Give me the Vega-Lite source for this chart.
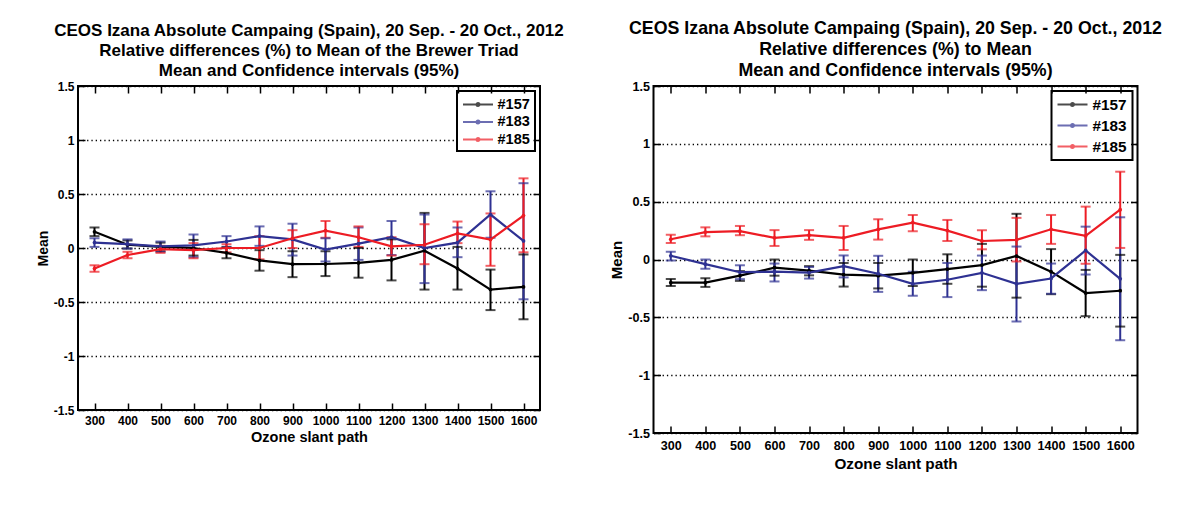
{
  "$schema": "https://vega.github.io/schema/vega-lite/v6.json",
  "background": "#ffffff",
  "padding": {"left": 35, "top": 19, "right": 0, "bottom": 0},
  "datasets": {
    "relToTriad": [
      {"path": 300, "brewer": "#157", "mean": 0.15, "lo": 0.11, "hi": 0.19},
      {"path": 400, "brewer": "#157", "mean": 0.03, "lo": -0.005, "hi": 0.07},
      {"path": 500, "brewer": "#157", "mean": 0.01, "lo": -0.03, "hi": 0.05},
      {"path": 600, "brewer": "#157", "mean": 0.0, "lo": -0.07, "hi": 0.075},
      {"path": 700, "brewer": "#157", "mean": -0.045, "lo": -0.095, "hi": 0.005},
      {"path": 800, "brewer": "#157", "mean": -0.115, "lo": -0.21, "hi": -0.02},
      {"path": 900, "brewer": "#157", "mean": -0.15, "lo": -0.27, "hi": -0.03},
      {"path": 1000, "brewer": "#157", "mean": -0.148, "lo": -0.26, "hi": -0.03},
      {"path": 1100, "brewer": "#157", "mean": -0.138, "lo": -0.275, "hi": 0.0},
      {"path": 1200, "brewer": "#157", "mean": -0.11, "lo": -0.3, "hi": 0.08},
      {"path": 1300, "brewer": "#157", "mean": -0.025, "lo": -0.385, "hi": 0.325},
      {"path": 1400, "brewer": "#157", "mean": -0.19, "lo": -0.385, "hi": 0.01},
      {"path": 1500, "brewer": "#157", "mean": -0.385, "lo": -0.575, "hi": -0.2},
      {"path": 1600, "brewer": "#157", "mean": -0.36, "lo": -0.66, "hi": -0.06},
      {"path": 300, "brewer": "#183", "mean": 0.05, "lo": 0.01, "hi": 0.09},
      {"path": 400, "brewer": "#183", "mean": 0.035, "lo": -0.005, "hi": 0.08},
      {"path": 500, "brewer": "#183", "mean": 0.015, "lo": -0.035, "hi": 0.06},
      {"path": 600, "brewer": "#183", "mean": 0.025, "lo": -0.085, "hi": 0.125},
      {"path": 700, "brewer": "#183", "mean": 0.06, "lo": 0.01, "hi": 0.11},
      {"path": 800, "brewer": "#183", "mean": 0.11, "lo": 0.02, "hi": 0.2},
      {"path": 900, "brewer": "#183", "mean": 0.08, "lo": -0.07, "hi": 0.225},
      {"path": 1000, "brewer": "#183", "mean": -0.015, "lo": -0.125, "hi": 0.09},
      {"path": 1100, "brewer": "#183", "mean": 0.04, "lo": -0.11, "hi": 0.19},
      {"path": 1200, "brewer": "#183", "mean": 0.1, "lo": -0.065, "hi": 0.25},
      {"path": 1300, "brewer": "#183", "mean": 0.0, "lo": -0.325, "hi": 0.31},
      {"path": 1400, "brewer": "#183", "mean": 0.05, "lo": -0.085, "hi": 0.19},
      {"path": 1500, "brewer": "#183", "mean": 0.31, "lo": 0.095, "hi": 0.525},
      {"path": 1600, "brewer": "#183", "mean": 0.065, "lo": -0.475, "hi": 0.6},
      {"path": 300, "brewer": "#185", "mean": -0.19, "lo": -0.22, "hi": -0.16},
      {"path": 400, "brewer": "#185", "mean": -0.065, "lo": -0.095, "hi": -0.035},
      {"path": 500, "brewer": "#185", "mean": -0.01, "lo": -0.045, "hi": 0.02},
      {"path": 600, "brewer": "#185", "mean": -0.02, "lo": -0.095, "hi": 0.045},
      {"path": 700, "brewer": "#185", "mean": 0.0, "lo": -0.04, "hi": 0.035},
      {"path": 800, "brewer": "#185", "mean": 0.0, "lo": -0.105, "hi": 0.11},
      {"path": 900, "brewer": "#185", "mean": 0.09, "lo": 0.0, "hi": 0.165},
      {"path": 1000, "brewer": "#185", "mean": 0.16, "lo": 0.095, "hi": 0.25},
      {"path": 1100, "brewer": "#185", "mean": 0.1, "lo": 0.01, "hi": 0.2},
      {"path": 1200, "brewer": "#185", "mean": 0.015, "lo": -0.07, "hi": 0.1},
      {"path": 1300, "brewer": "#185", "mean": 0.03, "lo": -0.15, "hi": 0.22},
      {"path": 1400, "brewer": "#185", "mean": 0.135, "lo": 0.045, "hi": 0.245},
      {"path": 1500, "brewer": "#185", "mean": 0.078, "lo": -0.165, "hi": 0.32},
      {"path": 1600, "brewer": "#185", "mean": 0.3, "lo": -0.04, "hi": 0.645}
    ],
    "relToMean": [
      {"path": 300, "brewer": "#157", "mean": -0.2, "lo": -0.23, "hi": -0.168},
      {"path": 400, "brewer": "#157", "mean": -0.2, "lo": -0.237, "hi": -0.162},
      {"path": 500, "brewer": "#157", "mean": -0.14, "lo": -0.185, "hi": -0.1},
      {"path": 600, "brewer": "#157", "mean": -0.07, "lo": -0.14, "hi": 0.0},
      {"path": 700, "brewer": "#157", "mean": -0.097, "lo": -0.137, "hi": -0.057},
      {"path": 800, "brewer": "#157", "mean": -0.13, "lo": -0.234, "hi": -0.03},
      {"path": 900, "brewer": "#157", "mean": -0.14, "lo": -0.25, "hi": -0.03},
      {"path": 1000, "brewer": "#157", "mean": -0.115, "lo": -0.23, "hi": 0.0},
      {"path": 1100, "brewer": "#157", "mean": -0.083, "lo": -0.21, "hi": 0.045},
      {"path": 1200, "brewer": "#157", "mean": -0.048, "lo": -0.235, "hi": 0.135},
      {"path": 1300, "brewer": "#157", "mean": 0.03, "lo": -0.33, "hi": 0.395},
      {"path": 1400, "brewer": "#157", "mean": -0.105, "lo": -0.3, "hi": 0.09},
      {"path": 1500, "brewer": "#157", "mean": -0.29, "lo": -0.49, "hi": -0.09},
      {"path": 1600, "brewer": "#157", "mean": -0.27, "lo": -0.58, "hi": 0.04},
      {"path": 300, "brewer": "#183", "mean": 0.032, "lo": -0.008, "hi": 0.068},
      {"path": 400, "brewer": "#183", "mean": -0.04, "lo": -0.08, "hi": 0.0},
      {"path": 500, "brewer": "#183", "mean": -0.11, "lo": -0.17, "hi": -0.05},
      {"path": 600, "brewer": "#183", "mean": -0.105, "lo": -0.19, "hi": -0.035},
      {"path": 700, "brewer": "#183", "mean": -0.113, "lo": -0.165, "hi": -0.065},
      {"path": 800, "brewer": "#183", "mean": -0.058, "lo": -0.155, "hi": 0.035},
      {"path": 900, "brewer": "#183", "mean": -0.123, "lo": -0.28, "hi": 0.032},
      {"path": 1000, "brewer": "#183", "mean": -0.21, "lo": -0.313, "hi": -0.105},
      {"path": 1100, "brewer": "#183", "mean": -0.175, "lo": -0.325, "hi": -0.03},
      {"path": 1200, "brewer": "#183", "mean": -0.115, "lo": -0.265, "hi": 0.034},
      {"path": 1300, "brewer": "#183", "mean": -0.21, "lo": -0.536, "hi": 0.112},
      {"path": 1400, "brewer": "#183", "mean": -0.164, "lo": -0.296, "hi": -0.035},
      {"path": 1500, "brewer": "#183", "mean": 0.078, "lo": -0.13, "hi": 0.284},
      {"path": 1600, "brewer": "#183", "mean": -0.167, "lo": -0.698, "hi": 0.365},
      {"path": 300, "brewer": "#185", "mean": 0.175, "lo": 0.143, "hi": 0.213},
      {"path": 400, "brewer": "#185", "mean": 0.237, "lo": 0.2, "hi": 0.278},
      {"path": 500, "brewer": "#185", "mean": 0.245, "lo": 0.21, "hi": 0.29},
      {"path": 600, "brewer": "#185", "mean": 0.187, "lo": 0.117, "hi": 0.254},
      {"path": 700, "brewer": "#185", "mean": 0.21, "lo": 0.17, "hi": 0.254},
      {"path": 800, "brewer": "#185", "mean": 0.187, "lo": 0.082, "hi": 0.29},
      {"path": 900, "brewer": "#185", "mean": 0.26, "lo": 0.172, "hi": 0.348},
      {"path": 1000, "brewer": "#185", "mean": 0.319, "lo": 0.245, "hi": 0.385},
      {"path": 1100, "brewer": "#185", "mean": 0.25, "lo": 0.16, "hi": 0.342},
      {"path": 1200, "brewer": "#185", "mean": 0.16, "lo": 0.088, "hi": 0.253},
      {"path": 1300, "brewer": "#185", "mean": 0.17, "lo": -0.017, "hi": 0.36},
      {"path": 1400, "brewer": "#185", "mean": 0.261, "lo": 0.135, "hi": 0.385},
      {"path": 1500, "brewer": "#185", "mean": 0.204, "lo": -0.037, "hi": 0.457},
      {"path": 1600, "brewer": "#185", "mean": 0.431, "lo": 0.1, "hi": 0.759}
    ]
  },
  "hconcat": [
    {
      "data": {"name": "relToTriad"},
      "width": 462,
      "height": 324,
      "title": {
        "text": [
          "CEOS Izana Absolute Campaing (Spain), 20 Sep. - 20 Oct., 2012",
          "Relative differences (%) to Mean of the Brewer Triad",
          "Mean and Confidence intervals (95%)"
        ],
        "fontSize": 17,
        "lineHeight": 20.2,
        "offset": 0
      },
      "layer": [
        {
          "mark": {"type": "rule", "strokeWidth": 2},
          "encoding": {
            "x": {
              "field": "path", "type": "quantitative",
              "scale": {"domain": [250, 1650], "nice": false, "zero": false},
              "axis": {
                "orient": "bottom", "title": "Ozone slant path",
                "values": [300, 400, 500, 600, 700, 800, 900, 1000, 1100, 1200, 1300, 1400, 1500, 1600],
                "format": "d", "labelFontSize": 12, "titleFontSize": 14.5,
                "ticks": true, "tickSize": -7, "tickColor": "#000000", "tickWidth": 1.5,
                "labelPadding": 12, "titlePadding": 4
              }
            },
            "y": {
              "field": "lo", "type": "quantitative",
              "scale": {"domain": [-1.5, 1.5], "nice": false, "zero": false},
              "axis": {
                "orient": "left", "title": "Mean",
                "values": [-1.5, -1, -0.5, 0, 0.5, 1, 1.5],
                "labelExpr": "'' + datum.value",
                "labelFontSize": 12, "titleFontSize": 14,
                "ticks": true, "tickSize": -7, "tickColor": "#000000", "tickWidth": 1.5,
                "labelPadding": 11, "titlePadding": 3,
                "grid": true
              }
            },
            "y2": {"field": "hi"},
            "color": {
              "field": "brewer", "type": "nominal",
              "scale": {"domain": ["#157", "#183", "#185"], "range": ["#000000", "#2e3192", "#ed1c24"]},
              "legend": {
                "orient": "top-right", "offset": 5, "title": null,
                "labelFontSize": 14.5, "labelOffset": 18.5,
                "padding": 5, "rowPadding": 2.5
              }
            }
          }
        },
        {
          "mark": {"type": "tick", "orient": "horizontal", "size": 10, "thickness": 2},
          "encoding": {
            "x": {"field": "path", "type": "quantitative", "axis": null},
            "y": {"field": "lo", "type": "quantitative", "axis": null},
            "color": {"field": "brewer", "type": "nominal"}
          }
        },
        {
          "mark": {"type": "tick", "orient": "horizontal", "size": 10, "thickness": 2},
          "encoding": {
            "x": {"field": "path", "type": "quantitative", "axis": null},
            "y": {"field": "hi", "type": "quantitative", "axis": null},
            "color": {"field": "brewer", "type": "nominal"}
          }
        },
        {
          "mark": {"type": "line", "strokeWidth": 2.2},
          "encoding": {
            "x": {
              "field": "path", "type": "quantitative",
              "axis": {"orient": "top", "labels": false, "title": null, "ticks": true, "tickSize": -7, "tickColor": "#000000", "tickWidth": 1.5, "zindex": 1, "values": [300, 400, 500, 600, 700, 800, 900, 1000, 1100, 1200, 1300, 1400, 1500, 1600]}
            },
            "y": {
              "field": "mean", "type": "quantitative",
              "axis": {"orient": "right", "labels": false, "title": null, "ticks": true, "tickSize": -7, "tickColor": "#000000", "tickWidth": 1.5, "zindex": 1, "values": [-1.5, -1, -0.5, 0, 0.5, 1, 1.5]}
            },
            "color": {"field": "brewer", "type": "nominal"}
          }
        },
        {
          "mark": {"type": "point", "filled": true, "size": 14, "opacity": 1},
          "encoding": {
            "x": {"field": "path", "type": "quantitative", "axis": null},
            "y": {"field": "mean", "type": "quantitative", "axis": null},
            "color": {"field": "brewer", "type": "nominal"}
          }
        }
      ],
      "resolve": {"axis": {"x": "independent", "y": "independent"}}
    },
    {
      "data": {"name": "relToMean"},
      "width": 484,
      "height": 347,
      "title": {
        "text": [
          "CEOS Izana Absolute Campaing (Spain), 20 Sep. - 20 Oct., 2012",
          "Relative differences (%) to Mean",
          "Mean and Confidence intervals (95%)"
        ],
        "fontSize": 17.8,
        "lineHeight": 21,
        "offset": 0
      },
      "layer": [
        {
          "mark": {"type": "rule", "strokeWidth": 2},
          "encoding": {
            "x": {
              "field": "path", "type": "quantitative",
              "scale": {"domain": [250, 1650], "nice": false, "zero": false},
              "axis": {
                "orient": "bottom", "title": "Ozone slant path",
                "values": [300, 400, 500, 600, 700, 800, 900, 1000, 1100, 1200, 1300, 1400, 1500, 1600],
                "format": "d", "labelFontSize": 12.6, "titleFontSize": 15.3,
                "ticks": true, "tickSize": -7, "tickColor": "#000000", "tickWidth": 1.5,
                "labelPadding": 13, "titlePadding": 5
              }
            },
            "y": {
              "field": "lo", "type": "quantitative",
              "scale": {"domain": [-1.5, 1.5], "nice": false, "zero": false},
              "axis": {
                "orient": "left", "title": "Mean",
                "values": [-1.5, -1, -0.5, 0, 0.5, 1, 1.5],
                "labelExpr": "'' + datum.value",
                "labelFontSize": 12.6, "titleFontSize": 15,
                "ticks": true, "tickSize": -7, "tickColor": "#000000", "tickWidth": 1.5,
                "labelPadding": 11, "titlePadding": 3,
                "grid": true
              }
            },
            "y2": {"field": "hi"},
            "color": {
              "field": "brewer", "type": "nominal",
              "scale": {"domain": ["#157", "#183", "#185"], "range": ["#000000", "#2e3192", "#ed1c24"]},
              "legend": {
                "orient": "top-right", "offset": 5, "title": null,
                "labelFontSize": 15.3, "labelOffset": 19,
                "padding": 5, "rowPadding": 4
              }
            }
          }
        },
        {
          "mark": {"type": "tick", "orient": "horizontal", "size": 10, "thickness": 2},
          "encoding": {
            "x": {"field": "path", "type": "quantitative", "axis": null},
            "y": {"field": "lo", "type": "quantitative", "axis": null},
            "color": {"field": "brewer", "type": "nominal"}
          }
        },
        {
          "mark": {"type": "tick", "orient": "horizontal", "size": 10, "thickness": 2},
          "encoding": {
            "x": {"field": "path", "type": "quantitative", "axis": null},
            "y": {"field": "hi", "type": "quantitative", "axis": null},
            "color": {"field": "brewer", "type": "nominal"}
          }
        },
        {
          "mark": {"type": "line", "strokeWidth": 2.2},
          "encoding": {
            "x": {
              "field": "path", "type": "quantitative",
              "axis": {"orient": "top", "labels": false, "title": null, "ticks": true, "tickSize": -7, "tickColor": "#000000", "tickWidth": 1.5, "zindex": 1, "values": [300, 400, 500, 600, 700, 800, 900, 1000, 1100, 1200, 1300, 1400, 1500, 1600]}
            },
            "y": {
              "field": "mean", "type": "quantitative",
              "axis": {"orient": "right", "labels": false, "title": null, "ticks": true, "tickSize": -7, "tickColor": "#000000", "tickWidth": 1.5, "zindex": 1, "values": [-1.5, -1, -0.5, 0, 0.5, 1, 1.5]}
            },
            "color": {"field": "brewer", "type": "nominal"}
          }
        },
        {
          "mark": {"type": "point", "filled": true, "size": 14, "opacity": 1},
          "encoding": {
            "x": {"field": "path", "type": "quantitative", "axis": null},
            "y": {"field": "mean", "type": "quantitative", "axis": null},
            "color": {"field": "brewer", "type": "nominal"}
          }
        }
      ],
      "resolve": {"axis": {"x": "independent", "y": "independent"}}
    }
  ],
  "spacing": 42.5,
  "resolve": {"scale": {"color": "independent"}, "legend": {"color": "independent"}},
  "config": {
    "font": "Liberation Sans",
    "view": {"stroke": "#000000", "strokeWidth": 2},
    "title": {
      "fontWeight": "bold", "color": "#000000", "anchor": "middle", "frame": "group"
    },
    "axis": {
      "domain": false,
      "labelFontWeight": "bold",
      "labelColor": "#000000",
      "titleFontWeight": "bold",
      "titleColor": "#000000",
      "grid": false,
      "gridColor": "#000000",
      "gridWidth": 1.3,
      "gridDash": [1.3, 3],
      "gridOpacity": 1
    },
    "legend": {
      "strokeColor": "#000000",
      "strokeWidth": 2,
      "fillColor": "#ffffff",
      "symbolType": "M-1,0H3M0.8,0A0.2,0.2,0,1,1,1.2,0A0.2,0.2,0,1,1,0.8,0",
      "symbolSize": 225,
      "symbolStrokeWidth": 2,
      "labelFontWeight": "bold",
      "labelColor": "#000000",
      "labelFont": "Liberation Sans"
    }
  }
}
